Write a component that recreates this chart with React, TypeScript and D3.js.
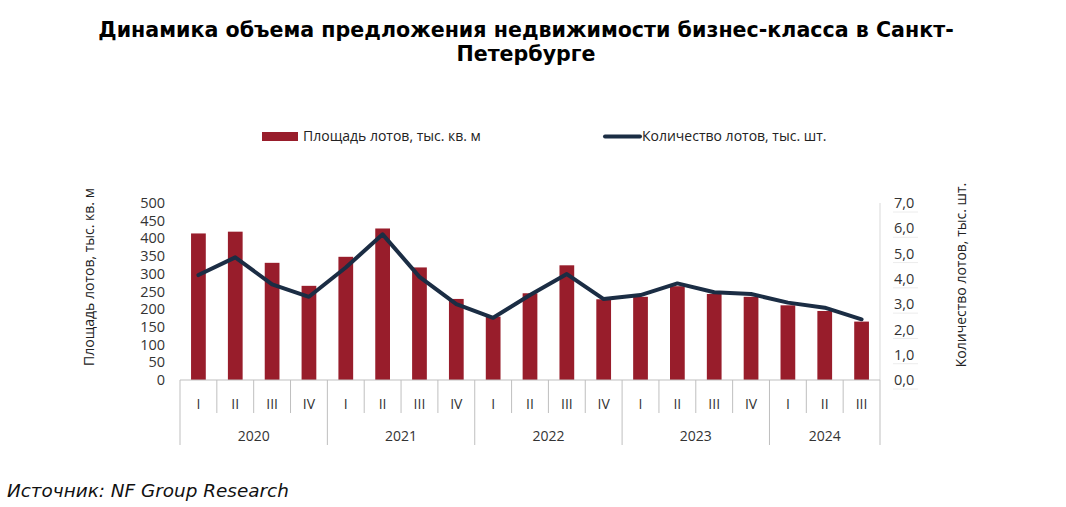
import React from "react";
import * as d3 from "d3";

const years = ["2020", "2021", "2022", "2023", "2024"];
const quarters = ["I", "II", "III", "IV", "I", "II", "III", "IV", "I", "II", "III", "IV", "I", "II", "III", "IV", "I", "II", "III"];
const quarterYear = [0, 0, 0, 0, 1, 1, 1, 1, 2, 2, 2, 2, 3, 3, 3, 3, 4, 4, 4];
const areaValues = [414, 419, 331, 266, 348, 428, 318, 229, 179, 245, 324, 228, 235, 265, 243, 235, 211, 195, 165];
const lotValues = [4.15, 4.85, 3.78, 3.29, 4.45, 5.76, 4.08, 3.0, 2.46, 3.36, 4.19, 3.2, 3.36, 3.82, 3.47, 3.4, 3.06, 2.86, 2.4];
const leftTicks = [0, 50, 100, 150, 200, 250, 300, 350, 400, 450, 500];
const rightTicks = [0, 1, 2, 3, 4, 5, 6, 7];

const W = 1066, H = 507;
const x0 = 180, x1 = 880, yTop = 203, yBase = 380;
const BAR = "#981d2b";
const LINE = "#1b2d44";
const GRID = "#bfbfbf";
const FONT = "'Open Sans', 'DejaVu Sans', sans-serif";

export default function App() {
  const idx = quarters.map((_, i) => i);
  const x = d3.scaleBand<number>().domain(idx).range([x0, x1]).paddingInner(0).paddingOuter(0);
  const yL = d3.scaleLinear().domain([0, 500]).range([yBase, yTop]);
  const yR = d3.scaleLinear().domain([0, 7]).range([yBase, yTop]);
  const bw = x.bandwidth();
  const barW = bw * 0.4;
  const line = d3.line<number>().x((i) => (x(i) as number) + bw / 2).y((i) => yR(lotValues[i]));

  const yearGroups = years.map((yr, yi) => {
    const ids = idx.filter((i) => quarterYear[i] === yi);
    const start = x(ids[0]) as number;
    const end = (x(ids[ids.length - 1]) as number) + bw;
    return { yr, start, end };
  });

  return (
    <svg width={W} height={H} style={{ position: "absolute", left: 0, top: 0, background: "#fff" }} fontFamily={FONT}>
      <text x={526} y={37} textAnchor="middle" fontFamily="'DejaVu Sans', sans-serif" fontWeight="bold" fontSize={20.6} fill="#000">
        Динамика объема предложения недвижимости бизнес-класса в Санкт-
      </text>
      <text x={526} y={61} textAnchor="middle" fontFamily="'DejaVu Sans', sans-serif" fontWeight="bold" fontSize={20.6} fill="#000">
        Петербурге
      </text>

      {/* legend */}
      <rect x={262} y={132} width={36} height={9} fill={BAR} />
      <text x={303} y={141} fontSize={14} fill="#222">Площадь лотов, тыс. кв. м</text>
      <line x1={605} x2={640} y1={136.5} y2={136.5} stroke={LINE} strokeWidth={4} strokeLinecap="round" />
      <text x={642} y={141} fontSize={14} fill="#222">Количество лотов, тыс. шт.</text>

      {/* axis titles */}
      <text transform={`translate(94,277) rotate(-90)`} textAnchor="middle" fontSize={14} fill="#222">Площадь лотов, тыс. кв. м</text>
      <text transform={`translate(966,275) rotate(-90)`} textAnchor="middle" fontSize={14} fill="#222">Количество лотов, тыс. шт.</text>

      {/* left ticks */}
      {leftTicks.map((t) => (
        <text key={t} x={165} y={yL(t)} dy="0.35em" textAnchor="end" fontSize={14.5} fill="#333">{t}</text>
      ))}

      {/* right axis */}
      <line x1={x1} x2={x1} y1={yTop} y2={yBase} stroke="#d9d9d9" strokeWidth={1} />
      {rightTicks.map((t) => (
        <g key={t}>
          <line x1={893} x2={918} y1={yR(t) + 9} y2={yR(t) + 9} stroke="#ececec" strokeWidth={1} />
          <text x={894} y={yR(t)} dy="0.35em" textAnchor="start" fontSize={14.5} fill="#333">{d3.format(".1f")(t).replace(".", ",")}</text>
        </g>
      ))}

      {/* bars */}
      {areaValues.map((v, i) => (
        <rect key={i} x={(x(i) as number) + (bw - barW) / 2} y={yL(v)} width={barW} height={yBase - yL(v)} fill={BAR} />
      ))}

      {/* line */}
      <path d={line(idx) as string} fill="none" stroke={LINE} strokeWidth={4} strokeLinejoin="round" strokeLinecap="round" />

      {/* category axis */}
      <line x1={x0} x2={x1} y1={yBase} y2={yBase} stroke={GRID} strokeWidth={1} />
      {idx.map((i) => (
        <g key={i}>
          {i > 0 && quarterYear[i] === quarterYear[i - 1] && (
            <line x1={x(i) as number} x2={x(i) as number} y1={yBase} y2={413} stroke={GRID} strokeWidth={1} />
          )}
          <text x={(x(i) as number) + bw / 2} y={404} dy="0.35em" textAnchor="middle" fontSize={14} fill="#333">{quarters[i]}</text>
        </g>
      ))}
      {yearGroups.map((g, k) => (
        <g key={g.yr}>
          <line x1={g.start} x2={g.start} y1={yBase} y2={445} stroke={GRID} strokeWidth={1} />
          {k === yearGroups.length - 1 && (
            <line x1={g.end} x2={g.end} y1={yBase} y2={445} stroke={GRID} strokeWidth={1} />
          )}
          <text x={(g.start + g.end) / 2} y={436} dy="0.35em" textAnchor="middle" fontSize={14} fill="#333">{g.yr}</text>
        </g>
      ))}

      <text x={7} y={497} fontFamily="'DejaVu Sans', sans-serif" fontStyle="italic" fontSize={18.4} fill="#111">Источник: NF Group Research</text>
    </svg>
  );
}
